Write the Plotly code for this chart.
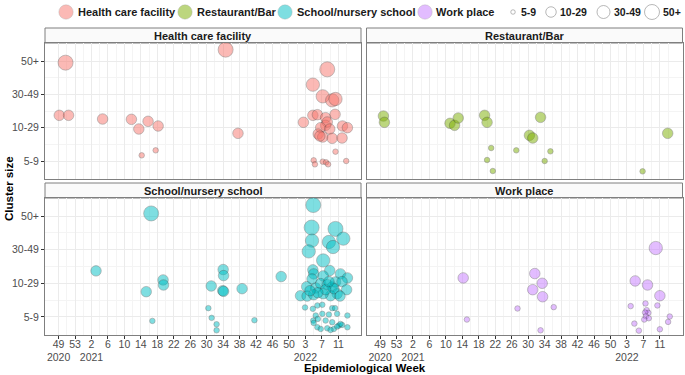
import plotly.graph_objects as go

W, H = 685, 375

# ---------------- data ----------------
week_labels = ["49<br>2020", "53", "2<br>2021", "6", "10", "14", "18", "22", "26",
               "30", "34", "38", "42", "46", "50", "3<br>2022", "7", "11"]
size_labels = ["5-9", "10-29", "30-49", "50+"]
settings = ["Health care facility", "Restaurant/Bar", "School/nursery school", "Work place"]
colors = ["#F8766D", "#7CAE00", "#00BFC4", "#C77CFF"]

# x: position on the week axis (tick k at 4*k), y: cluster-size category (1..4) with jitter
hc_x = [1.70, 0.17, 2.43, 10.7, 17.7, 19.5, 21.75, 24.2, 20.2, 23.6, 40.6, 43.6,
        65.3, 61.8, 64.2, 66.5, 67.3, 59.5, 61.8, 62.9, 64.9, 67.2, 64.9, 65.3, 63.7,
        65.9, 63.1, 64.2, 66.5, 69.0, 70.2, 68.9, 63.5, 67.3, 62.0, 62.3, 64.2, 65.0,
        65.5, 69.9]
hc_y = [3.95, 2.37, 2.37, 2.26, 2.25, 1.96, 2.19, 2.05, 1.17, 1.32, 4.34, 1.83,
        3.75, 3.29, 2.94, 2.82, 2.86, 2.16, 2.37, 2.39, 2.30, 2.40, 2.07, 2.17, 2.00,
        1.96, 1.81, 1.72, 1.68, 2.05, 2.00, 1.69, 1.75, 1.28, 1.02, 0.90, 0.98, 0.96,
        0.90, 1.00]

rb_x = [0.81, 1.05, 17.0, 18.1, 19.0, 25.4, 26.0, 39.0, 36.3, 37.1, 69.9,
        27.0, 33.1, 41.4, 26.0, 40.0, 27.4, 63.8]
rb_y = [2.35, 2.16, 2.13, 2.07, 2.29, 2.37, 2.16, 2.31, 1.77, 1.69, 1.83,
        1.39, 1.32, 1.29, 1.03, 1.00, 0.70, 0.69]

sc_x = [22.5, 9.1, 21.3, 25.4, 25.5, 22.8,
        40.0, 40.1, 37.1, 39.9, 40.1, 44.6, 54.1, 36.4, 37.2, 38.4, 38.4, 47.6,
        61.9, 61.5, 67.3, 61.6, 69.2, 65.7, 66.7, 60.8, 64.3,
        61.8, 62.0, 61.6, 65.9, 68.5, 70.2, 64.3, 60.3, 58.8, 60.4, 62.5, 63.7, 65.3,
        66.5, 67.3, 68.9, 70.0, 67.7, 66.1, 64.3, 62.0, 66.9, 64.9, 68.4, 63.0, 61.1,
        65.7,
        59.9, 61.8, 62.9, 64.1, 66.5, 67.2, 70.2, 62.5, 64.1, 65.7, 67.7, 61.9, 63.0,
        64.9, 66.5, 68.1, 68.9, 62.9, 63.7, 65.3, 66.9, 70.2, 62.0, 67.7, 66.1, 68.5]
sc_y = [4.08, 2.37, 1.75, 2.10, 1.95, 0.88,
        2.41, 2.23, 1.92, 1.78, 1.76, 1.84, 2.20, 1.26, 0.97, 0.78, 0.60, 0.90,
        4.33, 3.66, 3.62, 3.27, 3.33, 3.23, 3.08, 2.95, 2.68,
        2.40, 2.28, 2.13, 2.38, 2.28, 2.16, 2.22, 1.90, 1.63, 1.62, 1.86, 1.99, 1.96,
        1.89, 2.04, 2.05, 1.81, 1.69, 1.63, 1.69, 1.66, 1.84, 1.81, 1.62, 1.72, 1.78,
        2.05,
        1.28, 1.24, 1.34, 1.36, 1.26, 1.26, 1.04, 1.04, 1.09, 1.07, 1.09, 0.89, 0.94,
        0.89, 0.84, 0.74, 0.76, 0.69, 0.64, 0.66, 0.64, 0.69, 0.82, 0.71, 0.61, 0.79]

wp_x = [20.2, 21.1, 37.6, 39.4, 37.1, 39.5, 33.4, 42.2, 39.0,
        67.0, 62.0, 65.0, 68.0, 60.9, 64.5, 67.4, 64.8, 65.2, 64.4, 64.6, 65.3, 64.2,
        70.4, 70.0, 61.8, 62.9, 68.0]
wp_y = [2.16, 0.92, 2.29, 2.00, 1.81, 1.60, 1.25, 1.29, 0.60,
        3.05, 2.07, 1.95, 1.63, 1.32, 1.40, 1.34, 1.20, 1.12, 1.13, 1.02, 0.96, 0.92,
        1.01, 0.85, 0.80, 0.59, 0.63]

# ---------------- style ----------------
marker_px = {1: 5.5, 2: 10.5, 3: 13.3, 4: 15.0}
legend_px = [4.5, 10.5, 13, 15]
FONT = "Liberation Sans, Arial, sans-serif"
TICK_COL = "#4D4D4D"
BORDER = "#7F7F7F"

# panel geometry in pixels
left_px = (45, 361)
right_px = (366.5, 682.5)
top_px = (43, 179)
bot_px = (198, 335)
strip_h = 15


def fx(p):
    return p / W


def fy(p):
    return 1 - p / H


panels = [
    (settings[0], hc_x, hc_y, colors[0], left_px, top_px),
    (settings[1], rb_x, rb_y, colors[1], right_px, top_px),
    (settings[2], sc_x, sc_y, colors[2], left_px, bot_px),
    (settings[3], wp_x, wp_y, colors[3], right_px, bot_px),
]

fig = go.Figure()
shapes = []
annotations = []
xr = [-3.3, 73.5]
yr = [0.46, 4.54]
tickvals_x = [4 * i for i in range(len(week_labels))]

for i, (name, xs, ys, col, (x0, x1), (y0, y1)) in enumerate(panels):
    k = "" if i == 0 else str(i + 1)
    sizes = [marker_px[int(round(v))] for v in ys]
    fig.add_trace(go.Scatter(
        x=xs, y=ys, mode="markers", name=name, showlegend=False,
        xaxis="x" + k, yaxis="y" + k,
        marker=dict(size=sizes, color=col, opacity=0.5,
                    line=dict(color="rgba(40,40,40,0.9)", width=0.6)),
        hoverinfo="skip"))
    bottom = y1 == bot_px[1]
    left = x0 == left_px[0]
    fig.layout["xaxis" + k] = dict(
        domain=[fx(x0), fx(x1)], range=xr, anchor="y" + k,
        tickmode="array", tickvals=tickvals_x, ticktext=week_labels, tickangle=0,
        showticklabels=bottom, ticks="outside" if bottom else "",
        ticklen=3, tickcolor="#333333", tickwidth=1, ticklabelstandoff=-4,
        tickfont=dict(family=FONT, size=10.5, color=TICK_COL),
        showgrid=True, gridcolor="#EBEBEB", gridwidth=0.6,
        minor=dict(tickvals=[4 * i + 2 for i in range(len(week_labels))],
                   showgrid=True, gridcolor="#F4F4F4", gridwidth=0.5),
        showline=True, mirror=True, linecolor=BORDER, linewidth=1,
        zeroline=False, fixedrange=True, automargin=False)
    fig.layout["yaxis" + k] = dict(
        domain=[fy(y1), fy(y0)], range=yr, anchor="x" + k,
        tickmode="array", tickvals=[1, 2, 3, 4], ticktext=size_labels,
        showticklabels=left, ticks="outside" if left else "",
        ticklen=3, tickcolor="#333333", tickwidth=1,
        tickfont=dict(family=FONT, size=10.5, color=TICK_COL),
        showgrid=True, gridcolor="#EBEBEB", gridwidth=0.6,
        minor=dict(tickvals=[1.5, 2.5, 3.5], showgrid=True,
                   gridcolor="#F4F4F4", gridwidth=0.5),
        showline=True, mirror=True, linecolor=BORDER, linewidth=1,
        zeroline=False, fixedrange=True, automargin=False)
    # strip
    shapes.append(dict(type="rect", xref="paper", yref="paper",
                       x0=fx(x0), x1=fx(x1), y0=fy(y0), y1=fy(y0 - strip_h),
                       fillcolor="#FAFAFA", line=dict(color=BORDER, width=1), layer="below"))
    annotations.append(dict(text="<b>" + name + "</b>", xref="paper", yref="paper",
                            x=fx((x0 + x1) / 2), y=fy(y0 - strip_h / 2),
                            xanchor="center", yanchor="middle", showarrow=False,
                            font=dict(family=FONT, size=11, color="#1A1A1A")))

# axis titles
annotations.append(dict(text="<b>Epidemiological Week</b>", xref="paper", yref="paper",
                        x=fx(365), y=fy(368), xanchor="center", yanchor="middle",
                        showarrow=False, font=dict(family=FONT, size=11.5, color="#000000")))
annotations.append(dict(text="<b>Cluster size</b>", xref="paper", yref="paper",
                        x=fx(9), y=fy(189), xanchor="center", yanchor="middle", textangle=-90,
                        showarrow=False, font=dict(family=FONT, size=11.5, color="#000000")))

# legend (drawn manually)
LY = 12
color_leg = [(66, 76), (185, 195), (285, 295), (425, 434)]
for (cx, tx), name, col in zip(color_leg, settings, colors):
    r = 7.2
    shapes.append(dict(type="circle", xref="paper", yref="paper",
                       xsizemode="pixel", ysizemode="pixel",
                       xanchor=fx(cx), yanchor=fy(LY), x0=-r, x1=r, y0=-r, y1=r,
                       fillcolor=col, opacity=0.5,
                       line=dict(color="rgba(60,60,60,0.5)", width=0.6)))
    annotations.append(dict(text="<b>" + name + "</b>", xref="paper", yref="paper",
                            x=fx(tx), y=fy(LY), xanchor="left", yanchor="middle",
                            showarrow=False, font=dict(family=FONT, size=11, color="#1A1A1A")))

size_leg = [(513, 519), (551, 558), (603.5, 612), (652, 661)]
for (cx, tx), lab, d in zip(size_leg, size_labels, legend_px):
    r = d / 2
    shapes.append(dict(type="circle", xref="paper", yref="paper",
                       xsizemode="pixel", ysizemode="pixel",
                       xanchor=fx(cx), yanchor=fy(LY), x0=-r, x1=r, y0=-r, y1=r,
                       fillcolor="white", line=dict(color="#9A9A9A", width=0.7)))
    annotations.append(dict(text="<b>" + lab + "</b>", xref="paper", yref="paper",
                            x=fx(tx), y=fy(LY), xanchor="left", yanchor="middle",
                            showarrow=False, font=dict(family=FONT, size=10.5, color="#1A1A1A")))

fig.update_layout(
    width=W, height=H, margin=dict(l=0, r=0, t=0, b=0, pad=0),
    paper_bgcolor="white", plot_bgcolor="white",
    shapes=shapes, annotations=annotations, showlegend=False,
    font=dict(family=FONT),
)

fig.write_html("out.html", config={"displayModeBar": False},
               post_script="document.body.style.margin='0';document.body.style.padding='0';")
